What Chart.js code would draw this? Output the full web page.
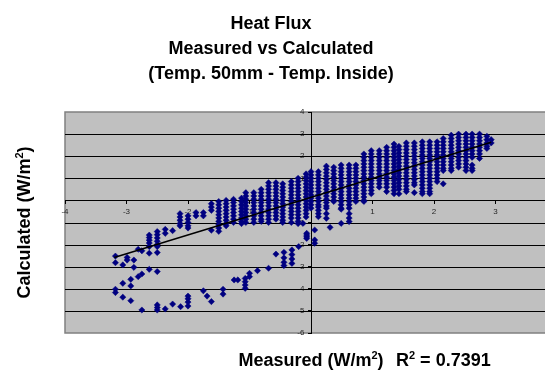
<!DOCTYPE html>
<html>
<head>
<meta charset="utf-8">
<style>
  html, body { margin: 0; padding: 0; background: #fff; overflow: hidden; }
  #wrap { position: relative; width: 580px; height: 372px; }
</style>
<script src="https://cdn.jsdelivr.net/npm/chart.js@4/dist/chart.umd.min.js"></script>
</head>
<body>
<div id="wrap"><canvas id="chart"></canvas></div>
<script>
/* =============================================
   DATA
   ============================================= */
const titleLines = ['Heat Flux', 'Measured vs Calculated', '(Temp. 50mm - Temp. Inside)'];
const rSquared = '0.7391';

// main band: measured x value of each column, calculated values stacked in it
const bandX = [-2.13, -2.0, -1.87, -1.75, -1.62, -1.5, -1.38, -1.26, -1.13, -1.06, -0.93, -0.81,
  -0.69, -0.57, -0.46, -0.32, -0.21, -0.08, 0.0, 0.12, 0.25, 0.37, 0.49, 0.62, 0.73, 0.86,
  0.98, 1.11, 1.23, 1.35, 1.43, 1.55, 1.68, 1.81, 1.93, 2.05, 2.15, 2.28, 2.4, 2.52, 2.62,
  2.74, 2.86, 2.93];
const bandY = [
  [-0.6, -0.75, -0.9, -1.05, -1.15],
  [-0.7, -0.85, -1.0, -1.15, -1.25],
  [-0.55, -0.7],
  [-0.55, -0.7],
  [-0.15, -0.3, -0.45, -1.35],
  [-0.05, -0.2, -0.35, -0.5, -0.65, -0.8, -0.95, -1.1, -1.25, -1.4],
  [0.0, -0.15, -0.3, -0.45, -0.6, -0.75, -0.9, -1.05, -1.15],
  [0.05, -0.1, -0.25, -0.4, -0.55, -0.7, -0.85, -1.0],
  [0.1, -0.05, -0.2, -0.35, -0.5, -0.65, -0.8, -0.95, -1.05],
  [0.35, 0.2, 0.05, -0.1, -0.25, -0.4, -0.55, -0.7, -0.85, -1.0],
  [0.35, 0.2, 0.05, -0.1, -0.25, -0.4, -0.55, -0.7, -0.85, -1.0],
  [0.5, 0.35, 0.2, 0.05, -0.1, -0.25, -0.4, -0.55, -0.7, -0.85, -0.95],
  [0.8, 0.65, 0.5, 0.35, 0.2, 0.05, -0.1, -0.25, -0.4, -0.55, -0.7, -0.85, -1.0],
  [0.8, 0.65, 0.5, 0.35, 0.2, 0.05, -0.1, -0.25, -0.4, -0.55, -0.7, -0.85],
  [0.75, 0.6, 0.45, 0.3, 0.15, 0.0, -0.15, -0.3, -0.45, -0.6, -0.75, -0.9, -1.0],
  [0.85, 0.7, 0.55, 0.4, 0.25, 0.1, -0.05, -0.2, -0.35, -0.5, -0.65, -0.8, -1.0],
  [1.0, 0.85, 0.7, 0.55, 0.4, 0.25, 0.1, -0.05, -0.2, -0.35, -0.5, -0.65, -0.8, -0.95, -1.05],
  [1.2, 1.05, 0.9, 0.75, 0.6, 0.45, 0.3, 0.15, 0.0, -0.15, -0.3, -0.45, -0.6, -0.75],
  [1.3, 1.15, 1.0, 0.85, 0.7, 0.55, 0.4, 0.25, 0.1, -0.05, -0.2, -0.35],
  [1.3, 1.15, 1.0, 0.85, 0.7, 0.55, 0.4, 0.25, 0.1, -0.05, -0.2, -0.3, -0.45],
  [1.55, 1.4, 1.25, 1.1, 0.95, 0.8, 0.65, 0.5, 0.35, 0.2, 0.05, -0.1, -0.25, -0.35],
  [1.5, 1.35, 1.2, 1.05, 0.9, 0.75, 0.6, 0.45, 0.3, 0.15, 0.0, -0.05],
  [1.6, 1.45, 1.3, 1.15, 1.0, 0.85, 0.7, 0.55, 0.4, 0.25, 0.1, -0.05, -0.2, -0.35, -0.4],
  [1.6, 1.45, 1.3, 1.15, 1.0, 0.85, 0.7, 0.55, 0.4, 0.25, 0.1, -0.05, -0.2, -0.35],
  [1.6, 1.45, 1.3, 1.15, 1.0, 0.85, 0.7, 0.55, 0.4, 0.25, 0.1, -0.05],
  [2.1, 1.95, 1.8, 1.65, 1.5, 1.35, 1.2, 1.05, 0.9, 0.75, 0.6, 0.45, 0.3, 0.15, 0.0, -0.05],
  [2.25, 2.1, 1.95, 1.8, 1.65, 1.5, 1.35, 1.2, 1.05, 0.9, 0.75, 0.6, 0.45, 0.3],
  [2.25, 2.1, 1.95, 1.8, 1.65, 1.5, 1.35, 1.2, 1.05, 0.9, 0.75, 0.6],
  [2.4, 2.25, 2.1, 1.95, 1.8, 1.65, 1.5, 1.35, 1.2, 1.05, 0.9, 0.75, 0.6, 0.4],
  [2.55, 2.4, 2.25, 2.1, 1.95, 1.8, 1.65, 1.5, 1.35, 1.2, 1.05, 0.9, 0.75, 0.6, 0.45, 0.3],
  [2.45, 2.3, 2.15, 2.0, 1.85, 1.7, 1.55, 1.4, 1.25, 1.1, 0.95, 0.8, 0.65, 0.5, 0.3],
  [2.6, 2.45, 2.3, 2.15, 2.0, 1.85, 1.7, 1.55, 1.4, 1.25, 1.1, 0.95, 0.8, 0.65, 0.5, 0.4],
  [2.6, 2.45, 2.3, 2.15, 2.0, 1.85, 1.7, 1.55, 1.4, 1.25, 1.1, 0.95, 0.8, 0.7, 0.35],
  [2.65, 2.5, 2.35, 2.2, 2.05, 1.9, 1.75, 1.6, 1.45, 1.3, 1.15, 1.0, 0.85, 0.7, 0.55, 0.4, 0.3],
  [2.65, 2.5, 2.35, 2.2, 2.05, 1.9, 1.75, 1.6, 1.45, 1.3, 1.15, 1.0, 0.85, 0.7, 0.55, 0.4, 0.3],
  [2.65, 2.5, 2.35, 2.2, 2.05, 1.9, 1.75, 1.6, 1.45, 1.3, 1.15, 1.0, 0.85],
  [2.8, 2.65, 2.5, 2.35, 2.2, 2.05, 1.9, 1.75, 1.6, 1.45, 1.35, 0.75],
  [2.95, 2.8, 2.65, 2.5, 2.35, 2.2, 2.05, 1.9, 1.75, 1.6, 1.45, 1.35],
  [3.0, 2.85, 2.7, 2.55, 2.4, 2.25, 2.1, 1.95, 1.8, 1.65, 1.5],
  [3.0, 2.85, 2.7, 2.55, 2.4, 2.25, 2.1, 1.95, 1.8, 1.65, 1.5, 1.35],
  [3.0, 2.85, 2.7, 2.55, 2.4, 2.25, 2.1, 1.95, 1.6, 1.45, 1.35],
  [3.0, 2.85, 2.7, 2.55, 2.4, 2.25, 2.1, 1.9],
  [2.9, 2.75, 2.6, 2.45, 2.35],
  [2.75, 2.6]
];

// loose points: the lower loop and the outliers under the band
const tailX = [-3.18, -3.06, -2.99, -2.93, -2.88, -2.81, -2.75, -2.63, -2.5, -2.37, -2.25,
  -2.12, -2.0, -1.75, -1.69, -1.62, -1.43, -1.25, -1.19, -1.07, -1.0, -0.87, -0.69, -0.57,
  -0.44, -0.31, -0.2, -0.13, -0.07, 0.06, 0.12, 0.25, 0.31, 0.49, 0.62];
const tailY = [
  [-2.52, -2.82, -4.02, -4.17],
  [-2.92, -3.75, -4.38],
  [-2.58, -2.7],
  [-3.57, -3.87, -4.54],
  [-2.7, -3.03],
  [-2.21, -3.45],
  [-2.28, -3.33, -4.96],
  [-1.57, -1.68, -1.8, -1.93, -2.09, -2.39, -3.12],
  [-1.41, -1.55, -1.7, -1.85, -2.0, -2.09, -2.36, -3.22, -4.73, -4.85, -4.96],
  [-1.31, -1.49, -4.91],
  [-1.37, -4.69],
  [-4.81],
  [-4.33, -4.45, -4.6, -4.78],
  [-4.09],
  [-4.33],
  [-4.58],
  [-4.02, -4.24],
  [-3.6],
  [-3.6],
  [-3.53, -3.68, -3.83, -3.98],
  [-3.3, -3.45],
  [-3.18],
  [-3.07],
  [-2.43],
  [-2.35, -2.6, -2.8, -2.95],
  [-2.24, -2.45, -2.65, -2.85],
  [-2.09],
  [-1.04],
  [-1.49, -1.57, -1.65, -1.72],
  [-1.34, -1.79, -1.94],
  [-0.6, -0.74],
  [-0.6, -0.81],
  [-1.22],
  [-1.04],
  [-0.6, -0.8, -0.96]
];

// linear trendline end points
const trendX = [-3.2, 2.93];
const trendY = [-2.58, 2.63];

const xTicks = [-4, -3, -2, -1, 0, 1, 2, 3, 4];
const yTicks = [4, 3, 2, 1, 0, -1, -2, -3, -4, -5, -6];

/* =============================================
   BUILD POINTS
   ============================================= */
function columnsToPoints(xs, ys) {
  const pts = [];
  xs.forEach((x, i) => ys[i].forEach(y => pts.push({ x, y })));
  return pts;
}
const points = columnsToPoints(bandX, bandY).concat(columnsToPoints(tailX, tailY));
const trend = trendX.map((x, i) => ({ x, y: trendY[i] }));

const FONT = "'Liberation Sans', Arial, sans-serif";

/* =============================================
   TEXT HELPER — runs with superscripts
   ============================================= */
function drawRich(ctx, parts, x, y, align) {
  const big = `bold 18px ${FONT}`;
  const small = `bold 11px ${FONT}`;
  let total = 0;
  parts.forEach(p => { ctx.font = p.sup ? small : big; total += ctx.measureText(p.t).width; });
  let cx = align === 'center' ? x - total / 2 : x;
  ctx.textAlign = 'left';
  ctx.textBaseline = 'alphabetic';
  parts.forEach(p => {
    ctx.font = p.sup ? small : big;
    ctx.fillText(p.t, cx, p.sup ? y - 7 : y);
    cx += ctx.measureText(p.t).width;
  });
}

/* =============================================
   PLOT FRAME + TITLES PLUGIN
   ============================================= */
const excelFrame = {
  id: 'excelFrame',
  beforeDraw(chart) {
    const { ctx, chartArea: a } = chart;
    ctx.save();
    ctx.fillStyle = '#c0c0c0';
    ctx.fillRect(a.left, a.top, a.right - a.left, a.bottom - a.top);
    ctx.strokeStyle = '#808080';
    ctx.lineWidth = 1.5;
    ctx.strokeRect(a.left, a.top, a.right - a.left, a.bottom - a.top);
    ctx.restore();
  },
  // Excel draws the major gridlines over the tick labels
  beforeDatasetsDraw(chart) {
    const { ctx, chartArea: a, scales: { y } } = chart;
    ctx.save();
    ctx.strokeStyle = '#000';
    ctx.lineWidth = 1;
    y.ticks.forEach(t => {
      if (t.value === y.min || t.value === y.max) return;
      const py = Math.round(y.getPixelForValue(t.value)) + 0.5;
      ctx.beginPath();
      ctx.moveTo(a.left, py);
      ctx.lineTo(a.right, py);
      ctx.stroke();
    });
    ctx.restore();
  },
  afterDraw(chart) {
    const { ctx, chartArea: a } = chart;
    ctx.save();
    ctx.fillStyle = '#000';
    ctx.font = `bold 18px ${FONT}`;
    ctx.textAlign = 'center';
    ctx.textBaseline = 'alphabetic';
    titleLines.forEach((line, i) => ctx.fillText(line, 271, 29 + i * 25));

    // x axis title and R² label
    drawRich(ctx, [{ t: 'Measured (W/m' }, { t: '2', sup: true }, { t: ')' }],
      (a.left + a.right) / 2, 366, 'center');
    drawRich(ctx, [{ t: 'R' }, { t: '2', sup: true }, { t: ' = ' + rSquared }], 396, 366, 'left');

    // y axis title
    ctx.translate(30, (a.top + a.bottom) / 2);
    ctx.rotate(-Math.PI / 2);
    drawRich(ctx, [{ t: 'Calculated (W/m' }, { t: '2', sup: true }, { t: ')' }], 0, 0, 'center');
    ctx.restore();
  }
};

/* =============================================
   CHART
   ============================================= */
const tickFont = { family: FONT, size: 8 };
const NBSP = '\u00a0';

new Chart(document.getElementById('chart'), {
  type: 'scatter',
  data: {
    datasets: [
      {
        label: 'Linear (trend)',
        data: trend,
        showLine: true,
        borderColor: '#000',
        borderWidth: 1.5,
        pointRadius: 0,
        fill: false,
      },
      {
        label: 'Calculated',
        data: points,
        pointStyle: 'rectRot',
        pointRadius: 3.1,
        pointBorderWidth: 0.5,
        backgroundColor: '#000080',
        borderColor: '#000080',
      },
    ],
  },
  options: {
    responsive: true,
    maintainAspectRatio: false,
    animation: false,
    layout: { padding: { left: 65, right: 23, top: 112, bottom: 39 } },
    plugins: {
      legend: { display: false },
      title: { display: false },
      tooltip: { enabled: false },
    },
    scales: {
      x: {
        type: 'linear',
        position: { y: 0 },
        min: xTicks[0],
        max: xTicks[xTicks.length - 1],
        afterBuildTicks: s => { s.ticks = xTicks.map(v => ({ value: v })); },
        ticks: {
          color: '#262626',
          font: tickFont,
          padding: 4,
          maxRotation: 0,
          autoSkip: false,
          callback: v => (v === 0 ? '' : v),
        },
        grid: { drawOnChartArea: false, drawTicks: true, tickLength: 3, tickColor: '#000' },
        border: { display: true, color: '#000', width: 1 },
      },
      y: {
        type: 'linear',
        position: { x: 0 },
        min: yTicks[yTicks.length - 1],
        max: yTicks[0],
        afterBuildTicks: s => { s.ticks = yTicks.map(v => ({ value: v })); },
        ticks: {
          color: '#262626',
          font: tickFont,
          autoSkip: false,
          // labels sit a few px left of the crossing axis
          callback: v => (v === 0 ? '' : v + NBSP + NBSP + NBSP),
        },
        grid: { drawOnChartArea: false, drawTicks: true, tickLength: 3, tickColor: '#000' },
        border: { display: true, color: '#000', width: 1 },
      },
    },
  },
  plugins: [excelFrame],
});
</script>
</body>
</html>
